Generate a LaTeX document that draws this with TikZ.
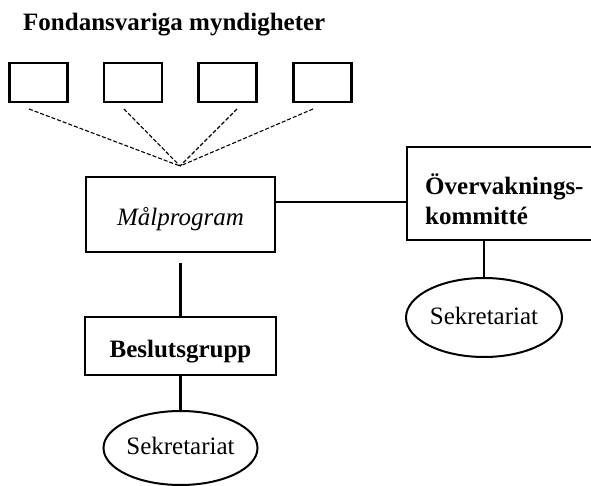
\documentclass[tikz,border=0pt]{standalone}
\usepackage{fontspec}
\setmainfont{Liberation Serif}
\usetikzlibrary{shapes.geometric,calc}
\begin{document}
\begin{tikzpicture}[x=1pt,y=-1pt,
  every node/.style={font=\fontsize{25}{30}\selectfont, inner sep=0pt},
  smallbox/.style={draw, line width=2.3pt, minimum width=58pt, minimum height=39pt},
  bigbox/.style={draw, line width=2.3pt, text height=22pt, text depth=0pt},
  secr/.style={draw, ellipse, line width=2pt, text height=13pt, text depth=0pt},
  conn/.style={line width=2.2pt},
  dashconn/.style={line width=1.1pt, dash pattern=on 4pt off 2pt}]
\useasboundingbox (0,0) rectangle (591,486);
% title
\node[anchor=base west, font=\fontsize{25}{30}\selectfont\bfseries] (title) at (23,31) {Fondansvariga myndigheter};
% small boxes
\node[smallbox] (b1) at (38.5,82.5) {};
\node[smallbox] (b2) at (133,82.5) {};
\node[smallbox] (b3) at (227.5,82.5) {};
\node[smallbox] (b4) at (322.5,82.5) {};
% main boxes
\node[bigbox, minimum width=189pt, minimum height=75pt, font=\fontsize{25}{30}\selectfont\itshape] (mp) at (180.5,214.5) {Målprogram};
\node[bigbox, minimum width=191pt, minimum height=58pt, font=\fontsize{25}{30}\selectfont\bfseries] (bg) at (180.5,346) {Beslutsgrupp};
\node[draw, line width=2.3pt, minimum width=192pt, minimum height=93pt] (ov) at (503,193.5) {};
\node[anchor=base west, font=\fontsize{25}{30}\selectfont\bfseries] (ovt) at (425,195)
  {\begin{tabular}[t]{@{}l@{}}Övervaknings-\\kommitté\end{tabular}};
% secretariats
\node[secr, minimum width=156pt, minimum height=79pt] (s2) at (484,317.5) {Sekretariat};
\node[secr, minimum width=154pt, minimum height=74pt] (s1) at (180.5,448) {Sekretariat};
% dashed connectors
\coordinate (m) at (180,166);
\coordinate (d1) at (29,109);
\coordinate (d2) at (124,109);
\coordinate (d3) at (237,109);
\coordinate (d4) at (313,109);
\foreach \d in {d1,d2,d3,d4} \draw[dashconn] (\d) -- (m);
% solid connectors
\draw[conn] ([yshift=12.5pt]mp.east) -- ([yshift=12.5pt]mp.east -| ov.west);
\draw[conn, shorten <=10pt] (mp.south) -- (bg.north);
\draw[conn] (bg.south) -- (s1.north);
\draw[conn] (s2.north |- ov.south) -- (s2.north);
\end{tikzpicture}
\end{document}
